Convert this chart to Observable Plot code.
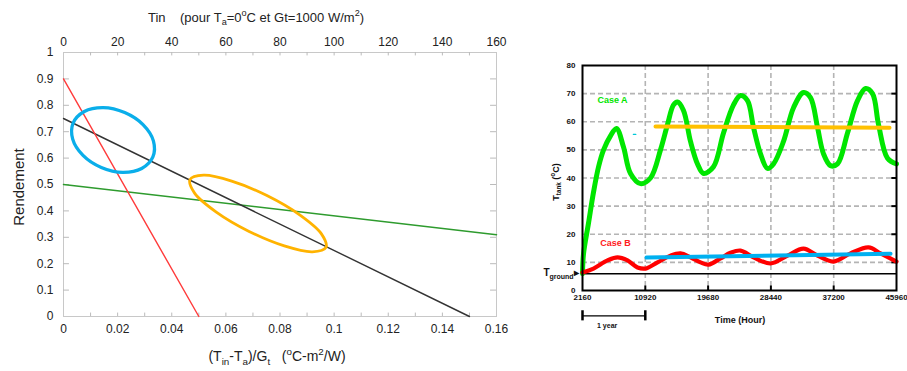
<!DOCTYPE html>
<html><head><meta charset="utf-8">
<script src="https://cdn.jsdelivr.net/npm/d3@7"></script>
<script src="https://cdn.jsdelivr.net/npm/@observablehq/plot@0.6"></script>
<style>
body{margin:0;background:#fff;font-family:"Liberation Sans",Arial,sans-serif;}
#wrap{position:relative;width:907px;height:371px;overflow:hidden;background:#fff;}
.abs{position:absolute;white-space:nowrap;transform:translate(-50%,-50%);line-height:1;}
sub,sup{font-size:70%;line-height:0;}
</style></head><body><div id="wrap"></div>
<script>
// ---------- Left chart: efficiency vs (Tin-Ta)/Gt ----------
const effXTicks = [0, 0.02, 0.04, 0.06, 0.08, 0.1, 0.12, 0.14, 0.16];
const effXMinor = [0.01, 0.02, 0.03, 0.04, 0.05, 0.06, 0.07, 0.08, 0.09, 0.1, 0.11, 0.12, 0.13, 0.14, 0.15];
const tinTicks = [0, 20, 40, 60, 80, 100, 120, 140, 160];
const effYTicks = [0, 0.1, 0.2, 0.3, 0.4, 0.5, 0.6, 0.7, 0.8, 0.9, 1];
const redX = [0, 0.05], redY = [0.9, 0];
const blackX = [0, 0.15], blackY = [0.75, 0];
const greenX = [0, 0.16], greenY = [0.5, 0.31];
// outline points of the two highlight ellipses
const blueEllX = [0.03303, 0.02889, 0.02191, 0.01397, 0.00721, 0.00340, 0.00355, 0.00769, 0.01467, 0.02261, 0.02938, 0.03322];
const blueEllY = [0.6045, 0.5606, 0.5458, 0.5644, 0.6102, 0.6720, 0.7326, 0.7765, 0.7913, 0.7727, 0.7269, 0.6652];
const orangeEllX = [0.09699, 0.09197, 0.08159, 0.06858, 0.05646, 0.04844, 0.04674, 0.05177, 0.06215, 0.07516, 0.08728, 0.09530];
const orangeEllY = [0.2617, 0.2451, 0.2674, 0.3223, 0.3955, 0.4674, 0.5186, 0.5352, 0.5129, 0.4580, 0.3848, 0.3129];

// ---------- Right chart: storage temperature vs time ----------
const hourTicks = [2160, 10920, 19680, 28440, 37200, 45960];
const tempTicks = [0, 10, 20, 30, 40, 50, 60, 70, 80];
const caseAHours = [2160, 2300, 3000, 3700, 4400, 5100, 6066, 6903, 7879, 8856, 10251, 11646, 13041, 14017, 14854, 15412, 16249, 17226, 18202, 19039, 20434, 21829, 23224, 24201, 25177, 26014, 26991, 27967, 28804, 30199, 31594, 32989, 33966, 34942, 35779, 36756, 37732, 39127, 40522, 41638, 42615, 43452, 44707, 45960];
const caseATemp = [6, 13, 24, 35, 44, 50, 55, 57.6, 51, 41.6, 38, 40, 50, 59, 66, 67, 64, 53, 45, 41.6, 44, 56, 66, 69.3, 67.5, 58, 48.6, 43.4, 45, 53, 65, 70.4, 68.6, 58, 48.6, 44.4, 45, 56, 67.5, 71.8, 70, 59, 47, 45];
const caseBHours = [2160, 3694, 5648, 7043, 8438, 9833, 10949, 12623, 14436, 15831, 17226, 18621, 19737, 21411, 22800, 24201, 26014, 28386, 30758, 32989, 34942, 37175, 39546, 42057, 43731, 45960];
const caseBTemp = [6.4, 7.8, 10.7, 11.8, 10.7, 8.2, 7.8, 10, 12.4, 13.2, 11.8, 10, 9.2, 11.4, 13.4, 14.2, 11.8, 9.6, 12.4, 14.9, 12.4, 10.3, 13.2, 15.3, 13.2, 10.3];
const meanAHours = [12344, 44987], meanATemp = [58.3, 57.9];
const meanBHours = [11088, 45126], meanBTemp = [11.7, 13.1];
const strayDashHours = [9250, 9600], strayDashTemp = [55.5, 55.5];
const tGround = 6;
const yearSpan = [2160, 10920];

const pts = (xs, ys) => xs.map((x, i) => ({x, y: ys[i]}));
const fmt = d => String(+d.toFixed(2));

const left = Plot.plot({
  width: 540, height: 371,
  marginLeft: 63, marginRight: 44, marginTop: 52, marginBottom: 55,
  x: {domain: [0, 0.16]}, y: {domain: [0, 1]},
  style: {fontFamily: "Liberation Sans, Arial, sans-serif", fontSize: "12px", color: "#222", background: "#fff"},
  marks: [
    Plot.frame({stroke: "#c8c8c8"}),
    Plot.ruleX(effXMinor, {y1: 0, y2: 0.013, stroke: "#bbb"}),
    Plot.ruleX(effXMinor, {y1: 0.987, y2: 1, stroke: "#bbb"}),
    Plot.ruleY(effYTicks.slice(1, -1), {x1: 0, x2: 0.0022, stroke: "#bbb"}),
    Plot.ruleY(effYTicks.slice(1, -1), {x1: 0.1578, x2: 0.16, stroke: "#bbb"}),
    Plot.axisX(effXTicks, {anchor: "bottom", tickSize: 0, tickPadding: 8, tickFormat: fmt, label: null, fontSize: 12}),
    Plot.axisX(tinTicks.map(t => t / 1000), {anchor: "top", tickSize: 0, tickPadding: 7, tickFormat: d => String(Math.round(d * 1000)), label: null, fontSize: 12}),
    Plot.axisY(effYTicks, {anchor: "left", tickSize: 0, tickPadding: 10, tickFormat: fmt, label: null, fontSize: 12}),
    Plot.line(pts(greenX, greenY), {x: "x", y: "y", stroke: "#2e9b2e", strokeWidth: 1.5}),
    Plot.line(pts(blackX, blackY), {x: "x", y: "y", stroke: "#333", strokeWidth: 1.4}),
    Plot.line(pts(redX, redY), {x: "x", y: "y", stroke: "#ff3b3b", strokeWidth: 1.4}),
    Plot.line(pts(blueEllX, blueEllY), {x: "x", y: "y", stroke: "#0aaeea", strokeWidth: 3.3, curve: "catmull-rom-closed"}),
    Plot.line(pts(orangeEllX, orangeEllY), {x: "x", y: "y", stroke: "#ffb300", strokeWidth: 2.8, curve: "catmull-rom-closed"})
  ]
});

const right = Plot.plot({
  width: 367, height: 371,
  marginLeft: 42, marginRight: 11, marginTop: 65, marginBottom: 81,
  x: {domain: [2160, 45960]}, y: {domain: [0, 80]},
  style: {fontFamily: "Liberation Sans, Arial, sans-serif", fontSize: "8px", fontWeight: "bold", color: "#111", background: "transparent", overflow: "visible"},
  marks: [
    Plot.gridY(tempTicks.slice(1, -1), {stroke: "#b4b4b4", strokeOpacity: 1, strokeWidth: 1.6, strokeDasharray: "5,3"}),
    Plot.gridX(hourTicks.slice(1, -1), {stroke: "#b4b4b4", strokeOpacity: 1, strokeWidth: 1.6, strokeDasharray: "5,3"}),
    Plot.axisY(tempTicks, {anchor: "left", tickSize: 0, tickPadding: 7, label: null, fontSize: 8, fontWeight: "bold"}),
    Plot.axisX(hourTicks, {anchor: "bottom", tickSize: 0, tickPadding: 4, label: null, tickFormat: d => String(d), fontSize: 8, fontWeight: "bold"}),
    Plot.ruleY(tempTicks.slice(1, -1), {x1: 45300, x2: 45960, stroke: "#000", strokeWidth: 2}),
    Plot.ruleX(hourTicks.slice(1, -1), {y1: 0, y2: 1.6, stroke: "#000", strokeWidth: 2}),
    Plot.ruleY([tGround], {stroke: "#000", strokeWidth: 1.5}),
    Plot.line(pts(caseAHours, caseATemp), {x: "x", y: "y", stroke: "#00e600", strokeWidth: 5, curve: "catmull-rom"}),
    Plot.line(pts(caseBHours, caseBTemp), {x: "x", y: "y", stroke: "#ff0000", strokeWidth: 4.2, curve: "catmull-rom"}),
    Plot.line(pts(meanAHours, meanATemp), {x: "x", y: "y", stroke: "#ffc000", strokeWidth: 4}),
    Plot.line(pts(meanBHours, meanBTemp), {x: "x", y: "y", stroke: "#00b0f0", strokeWidth: 4}),
    Plot.line(pts(strayDashHours, strayDashTemp), {x: "x", y: "y", stroke: "#00c8d8", strokeWidth: 1.2}),
    Plot.frame({stroke: "#000", strokeWidth: 2}),
    Plot.text(["Case A"], {x: 6345, y: 67.6, text: d => d, fill: "#00e600", fontSize: 9, fontWeight: "bold"}),
    Plot.text(["Case B"], {x: 6764, y: 16.7, text: d => d, fill: "#ff2020", fontSize: 9, fontWeight: "bold"}),
    Plot.ruleY([-9], {x1: yearSpan[0], x2: yearSpan[1], stroke: "#000", strokeWidth: 1.2}),
    Plot.ruleX(yearSpan, {y1: -7.2, y2: -10.8, stroke: "#000", strokeWidth: 2.5}),
    Plot.text(["1 year"], {x: 5600, y: -12.5, text: d => d, fontSize: 7, fontWeight: "bold"})
  ]
});

const wrap = document.getElementById("wrap");
const lbox = document.createElement("div");
lbox.style.cssText = "position:absolute;left:0;top:0;";
lbox.appendChild(left);
wrap.appendChild(lbox);
const rbox = document.createElement("div");
rbox.style.cssText = "position:absolute;left:540px;top:0;";
rbox.appendChild(right);
wrap.appendChild(rbox);

function label(html, x, y, css) {
  const d = document.createElement("div");
  d.className = "abs";
  d.innerHTML = html;
  d.style.left = x + "px";
  d.style.top = y + "px";
  d.style.cssText += css || "";
  wrap.appendChild(d);
}
label("Tin&nbsp;&nbsp;&nbsp;&nbsp;(pour T<sub>a</sub>=0<sup>o</sup>C et Gt=1000 W/m<sup>2</sup>)", 256, 17, "font-size:13px;color:#222;");
label("(T<sub>in</sub>-T<sub>a</sub>)/G<sub>t</sub>&nbsp;&nbsp;&nbsp;(<sup>o</sup>C-m<sup>2</sup>/W)", 277, 356, "font-size:14px;color:#222;");
label("Rendement", 18, 187, "font-size:15px;color:#222;transform:translate(-50%,-50%) rotate(-90deg);");
label("T<sub>tank</sub> (<sup>o</sup>C)", 556, 182, "font-size:9px;font-weight:bold;color:#111;transform:translate(-50%,-50%) rotate(-90deg);");
label("T<sub>ground</sub>&#9656;", 561, 273, "font-size:10px;font-weight:bold;color:#111;");
label("Time (Hour)", 740, 320, "font-size:9px;font-weight:bold;color:#111;");
</script></body></html>
